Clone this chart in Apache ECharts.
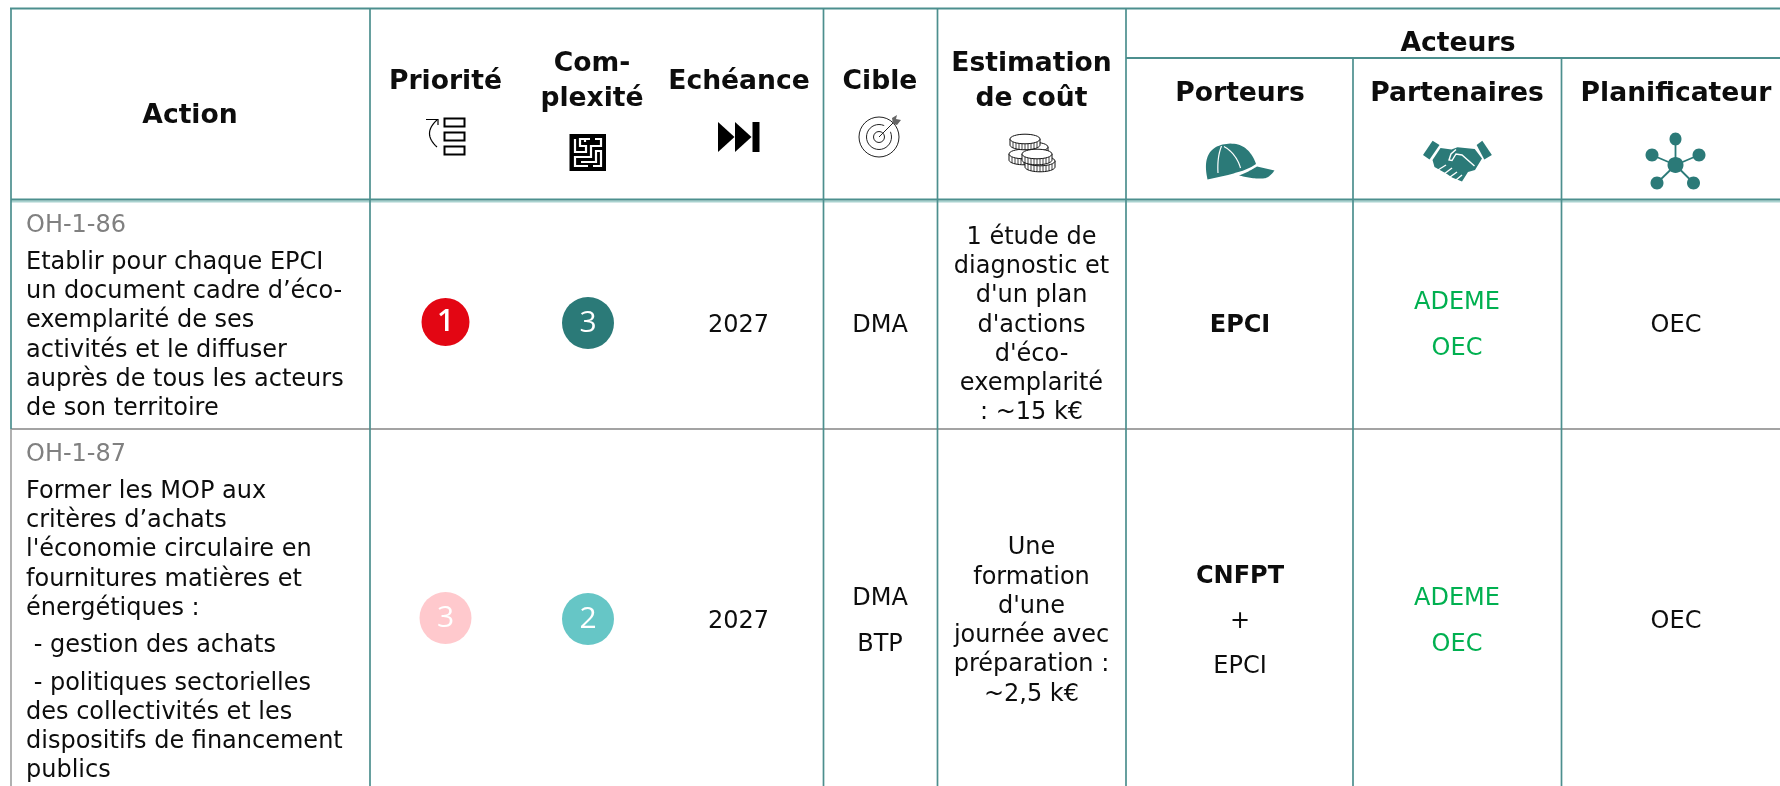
<!DOCTYPE html>
<html lang="fr">
<head>
<meta charset="utf-8">
<title>Actions</title>
<style>html,body{margin:0;padding:0;background:#fff}#c{width:1780px;height:786px}</style>
<script src="https://cdn.jsdelivr.net/npm/echarts@6/dist/echarts.min.js"></script>
</head>
<body>
<div id="c"></div>
<script>
// ---------- content ----------
const headerSingle = ['Action', 'Priorité', 'Com-\nplexité', 'Echéance', 'Cible', 'Estimation\nde coût'];
const headerGroup = 'Acteurs';
const headerActors = ['Porteurs', 'Partenaires', 'Planificateur'];
const actionCodes = ['OH-1-86', 'OH-1-87'];
const actionTexts = [
  [['Etablir pour chaque EPCI', 'un document cadre d’éco-', 'exemplarité de ses', 'activités et le diffuser', 'auprès de tous les acteurs', 'de son territoire']],
  [['Former les MOP aux', 'critères d’achats', "l'économie circulaire en", 'fournitures matières et', 'énergétiques :'],
   ['\u00a0- gestion des achats'],
   ['\u00a0- politiques sectorielles', 'des collectivités et les', 'dispositifs de financement', 'publics']]
];
const priorities = [1, 3];
const complexities = [3, 2];
const deadlines = ['2027', '2027'];
const targets = [['DMA'], ['DMA', 'BTP']];
const costs = [
  ['1 étude de', 'diagnostic et', "d'un plan", "d'actions", "d'éco-", 'exemplarité', ': ~15 k€'],
  ['Une', 'formation', "d'une", 'journée avec', 'préparation :', '~2,5 k€']
];
const carriers = [[['EPCI', true]], [['CNFPT', true], ['+', false], ['EPCI', false]]];
const partners = [['ADEME', 'OEC'], ['ADEME', 'OEC']];
const planners = [['OEC'], ['OEC']];

// ---------- layout (pixels of the canvas, mapped through the axes) ----------
const W = 1780, H = 786;
const COLX = [11, 370, 823.5, 937.5, 1126, 1353, 1561.5];
const ROWY = { top: 8.5, group: 58, head: 199.5, row1: 429 };
const CENTER = { action: 190, prio: 445.5, comp: 588, year: 738.5, target: 880, cost: 1031.5, carrier: 1240, partner: 1457, planner: 1676 };
const ROWC = [323, 619];
const BODY = 24, HEAD = 26.6, LH = 29.3, PARA = 46;
const TEAL = '#4c8f8e', HALO = '#a9d2cf', GREY = '#a3a3a3', INK = '#0d0d0d', ICON = '#2b7a78';
const FONT = '"DejaVu Sans", Verdana, sans-serif';
const TEXT_SHIFT = 4.3, HW = 2, VW = 1.7;

const rules = [
  [COLX[0] - 1, ROWY.top, W, ROWY.top, TEAL, HW],
  [COLX[4], ROWY.group, W, ROWY.group, TEAL, HW],
  [COLX[0], ROWY.head + 2, W, ROWY.head + 2, HALO, HW],
  [COLX[0], ROWY.head, W, ROWY.head, TEAL, HW],
  [COLX[0], ROWY.row1, W, ROWY.row1, GREY, HW],
  [COLX[0], ROWY.top, COLX[0], ROWY.row1, TEAL, VW],
  [COLX[0], ROWY.row1, COLX[0], H, GREY, VW],
  [COLX[1], ROWY.top, COLX[1], H, TEAL, VW],
  [COLX[2], ROWY.top, COLX[2], H, TEAL, VW],
  [COLX[3], ROWY.top, COLX[3], H, TEAL, VW],
  [COLX[4], ROWY.top, COLX[4], H, TEAL, VW],
  [COLX[5], ROWY.group, COLX[5], H, TEAL, VW],
  [COLX[6], ROWY.group, COLX[6], H, TEAL, VW]
];

const texts = []; // x, y, text, size, bold, color, align
function put(x, y, t, o) { o = o || {}; texts.push([x, y + TEXT_SHIFT, t, o.size || BODY, !!o.bold, o.color || INK, o.align || 'center']); }
function stack(x, cy, arr, pitch, o) { arr.forEach((t, i) => put(x, cy + (i - (arr.length - 1) / 2) * pitch, t, o)); }

// header
const H1 = { bold: true, size: HEAD };
put(CENTER.action, 112, headerSingle[0], H1);
put(CENTER.prio, 78, headerSingle[1], H1);
stack(592, 77.5, headerSingle[2].split('\n'), 35, H1);
put(739, 78, headerSingle[3], H1);
put(880, 78, headerSingle[4], H1);
stack(CENTER.cost, 77.5, headerSingle[5].split('\n'), 35, H1);
put(1458, 40, headerGroup, H1);
put(CENTER.carrier, 90, headerActors[0], H1);
put(CENTER.partner, 90, headerActors[1], H1);
put(CENTER.planner, 90, headerActors[2], H1);

// action column
const ACTION_TOP = [221.2, 450.2];
actionCodes.forEach((code, r) => {
  let y = ACTION_TOP[r];
  put(26, y, code, { color: '#808080', align: 'left' });
  y += 37;
  actionTexts[r].forEach(par => {
    par.forEach(line => { put(26, y, line, { align: 'left' }); y += LH; });
    y += 8;
  });
});

// body cells
ROWC.forEach((cy, r) => {
  const c0 = cy - 2;
  put(CENTER.year, c0, deadlines[r]);
  stack(CENTER.target, c0, targets[r], PARA);
  stack(CENTER.cost, c0, costs[r], LH);
  carriers[r].forEach((c, i) => put(CENTER.carrier, c0 + (i - (carriers[r].length - 1) / 2) * 45, c[0], { bold: c[1] }));
  stack(CENTER.partner, c0, partners[r], PARA, { color: '#00b050' });
  stack(CENTER.planner, c0, planners[r], PARA);
});

// badges
const PRIO_COLORS = { 1: '#e30613', 3: '#ffc9cd' };
const COMP_COLORS = { 3: '#2b7a78', 2: '#66c6c6' };
const badges = [
  [CENTER.prio, 322, priorities[0], PRIO_COLORS[priorities[0]], 48, 600],
  [CENTER.comp, 323, complexities[0], COMP_COLORS[complexities[0]], 52, 400],
  [CENTER.prio, 618, priorities[1], PRIO_COLORS[priorities[1]], 52, 400],
  [CENTER.comp, 619, complexities[1], COMP_COLORS[complexities[1]], 52, 400]
];

// ---------- pictograms, as vector primitives in canvas pixels ----------
function line(pts, w, c) { return { kind: 'poly', pts, w: w || 1, c: c || '#000' }; }
function fill(pts, c, s, w) { return { kind: 'fill', pts, c: c || ICON, s, w }; }
function ell(cx, cy, rx, ry, f, s, w) { return { kind: 'ell', cx, cy, rx, ry, f, s, w }; }
function box(x, y, w, h, s, lw) { return { kind: 'box', x, y, w, h, s, lw }; }
function bez(p0, p1, p2, p3) {
  const out = [];
  for (let i = 0; i <= 16; i++) {
    const t = i / 16, u = 1 - t;
    out.push([u*u*u*p0[0] + 3*u*u*t*p1[0] + 3*u*t*t*p2[0] + t*t*t*p3[0], u*u*u*p0[1] + 3*u*u*t*p1[1] + 3*u*t*t*p2[1] + t*t*t*p3[1]]);
  }
  return out;
}
function chain(start, segs) { let p = start, out = [start]; segs.forEach(s => { if (s.length === 1) { out.push(s[0]); p = s[0]; } else { out = out.concat(bez(p, s[0], s[1], s[2])); p = s[2]; } }); return out; }

const icons = [];
// priority list
icons.push(box(444.5, 118.5, 20, 8, '#000', 2), box(444.5, 132.5, 20, 8, '#000', 2), box(444.5, 146.5, 20, 8, '#000', 2));
icons.push(line([[426, 119.5], [438, 119.5], [438, 125]], 1.2));
icons.push(line(bez([437, 120], [427, 129], [427, 138], [437, 147]), 1.2));
// maze: black square with white channels
icons.push(fill([[569.5, 134], [606, 134], [606, 171], [569.5, 171]], '#000'));
[[[575, 139], [575, 152], [586, 152], [586, 146], [580, 146], [580, 139], [590, 139]],
 [[595, 139], [601, 139], [601, 146], [591, 146], [591, 157], [575, 157], [575, 166], [588, 166]],
 [[581, 162], [596, 162], [596, 151], [601, 151], [601, 166], [593, 166]],
 [[585, 139], [585, 142]]
].forEach(p => icons.push(line(p, 2.2, '#fff')));
// fast-forward
icons.push(fill([[718, 122], [734.5, 137], [718, 152]], '#000'), fill([[735, 122], [751.5, 137], [735, 152]], '#000'));
icons.push(fill([[752.5, 122], [759.5, 122], [759.5, 152], [752.5, 152]], '#000'));
// target
icons.push(ell(879, 137, 20, 20, 'none', '#222', 1), ell(879, 137, 12.5, 12.5, 'none', '#222', 1), ell(879, 137, 5.5, 5.5, 'none', '#222', 1));
icons.push(ell(889, 127, 5, 5, '#fff', 'none', 0));
icons.push(line([[879, 137], [895, 121]], 1, '#222'));
icons.push(fill([[892, 118], [897, 115], [896, 119], [901, 120], [897, 125], [893, 124]], '#666'));
// coins
function coin(cx, cy) {
  const rx = 15, ry = 4.8, h = 6, low = [];
  for (let i = 0; i <= 20; i++) { const a = Math.PI * i / 20; low.push([cx + rx * Math.cos(a), cy + h + ry * Math.sin(a)]); }
  icons.push(fill([[cx + rx, cy]].concat(low, [[cx - rx, cy]]), '#fff', '#111', 1));
  for (let i = -12; i <= 12; i += 3) {
    const d = ry * Math.sqrt(Math.max(0, 1 - (i * i) / (rx * rx)));
    icons.push(line([[cx + i, cy + d], [cx + i, cy + h + d]], 0.8, '#111'));
  }
  icons.push(ell(cx, cy, rx, ry, '#fff', '#111', 1));
}
coin(1033, 147); coin(1024, 154); coin(1025, 139); coin(1040, 161); coin(1037, 154);
// cap
icons.push(fill(chain([1207.5, 179.5], [[[1205, 168], [1205, 158], [1211, 151]], [[1216, 145], [1228, 142], [1238, 144.5]], [[1247, 147], [1253, 155], [1256, 164]], [[1248, 170], [1238, 172], [1228, 175]]])));
icons.push(fill(chain([1239, 175.5], [[[1246, 173], [1251, 170], [1257, 166.5]], [[1274.5, 170.5]], [[1271, 175], [1268, 178.5], [1262, 178.5]], [[1254, 179], [1246, 177], [1239, 175.5]]])));
icons.push(line(bez([1221.5, 146], [1218, 155], [1217.5, 164], [1218, 173]), 1.2, '#fff'));
icons.push(line(bez([1224, 146.5], [1232, 151], [1238, 159], [1240.5, 168]), 1.2, '#fff'));
// handshake
icons.push(fill([[1432.6, 140.7], [1439.5, 145], [1429.5, 159.5], [1423, 155]]));
icons.push(fill([[1482.3, 140.7], [1491.9, 155], [1484.3, 159.5], [1476.6, 145]]));
icons.push(fill([[1440.5, 148], [1451.5, 149.5], [1457.5, 147.3], [1474.7, 149], [1482, 158.5], [1475, 170], [1468, 172], [1462, 181.5], [1457, 179.5], [1452, 177.5], [1447, 174], [1434.5, 167], [1432.5, 160]]));
icons.push(line([[1474.5, 166], [1462, 155], [1456, 154], [1452, 160.5], [1449, 160], [1451, 154], [1456, 149.5]], 1.4, '#fff'));
[[[1438, 170], [1446, 165]], [[1444, 174], [1452, 168]], [[1450, 177], [1457, 172]], [[1456, 180], [1462, 175]]].forEach(p => icons.push(line(p, 1.4, '#fff')));
// network
const NET = [[1675.5, 139, 6, 6.5], [1652, 155, 6.5, 6.5], [1699, 155, 6.5, 6.5], [1657, 183, 6.5, 6.5], [1693.5, 183, 6.5, 6.5]];
NET.forEach(n => { icons.push(line([[1675.5, 165], [n[0], n[1]]], 1.8, ICON)); icons.push(ell(n[0], n[1], n[2], n[3], ICON, 'none', 0)); });
icons.push(ell(1675.5, 165, 8, 8, ICON, 'none', 0));

// ---------- chart ----------
const chart = echarts.init(document.getElementById('c'), null, { renderer: 'canvas' });
function renderIcon(p, api) {
  const o = icons[p.dataIndex];
  const c = pt => api.coord(pt);
  if (o.kind === 'poly') return { type: 'polyline', shape: { points: o.pts.map(c) }, style: { stroke: o.c, lineWidth: o.w, fill: 'none' } };
  if (o.kind === 'fill') return { type: 'polygon', shape: { points: o.pts.map(c) }, style: { fill: o.c, stroke: o.s || null, lineWidth: o.w || 0 } };
  if (o.kind === 'ell') { const q = c([o.cx, o.cy]); return { type: 'ellipse', shape: { cx: q[0], cy: q[1], rx: o.rx, ry: o.ry }, style: { fill: o.f, stroke: o.s === 'none' ? null : o.s, lineWidth: o.w } }; }
  const q = c([o.x, o.y]);
  return { type: 'rect', shape: { x: q[0], y: q[1], width: o.w, height: o.h }, style: { fill: 'none', stroke: o.s, lineWidth: o.lw } };
}
chart.setOption({
  animation: false,
  backgroundColor: '#fff',
  grid: { left: 0, right: 0, top: 0, bottom: 0 },
  xAxis: { type: 'value', min: 0, max: W, show: false },
  yAxis: { type: 'value', min: 0, max: H, inverse: true, show: false },
  tooltip: { show: false },
  series: [
    { type: 'custom', silent: true, clip: false, z: 1, data: rules.map((r, i) => [r[0], r[1], i]),
      encode: { x: 0, y: 1 },
      renderItem: (p, api) => {
        const r = rules[p.dataIndex], a = api.coord([r[0], r[1]]), b = api.coord([r[2], r[3]]);
        return { type: 'line', shape: { x1: a[0], y1: a[1], x2: b[0], y2: b[1] }, style: { stroke: r[4], lineWidth: r[5] } };
      } },
    { type: 'custom', silent: true, clip: false, z: 2, data: icons.map((o, i) => [0, 0, i]),
      encode: { x: 0, y: 1 }, renderItem: renderIcon },
    { type: 'custom', silent: true, clip: false, z: 3, data: texts.map(t => [t[0], t[1]]),
      encode: { x: 0, y: 1 },
      renderItem: (p, api) => {
        const t = texts[p.dataIndex], q = api.coord([t[0], t[1]]);
        return { type: 'text', style: { text: t[2], x: q[0], y: q[1], fill: t[5], align: t[6], verticalAlign: 'middle',
          font: `${t[4] ? 'bold ' : ''}${t[3]}px ${FONT}` } };
      } },
    { type: 'scatter', silent: true, z: 4, symbol: 'circle', data: badges.map(b => ({
        value: [b[0], b[1]], symbolSize: b[4], itemStyle: { color: b[3], opacity: 1 },
        label: { show: true, position: 'inside', formatter: String(b[2]), color: '#fff', fontSize: 30, fontWeight: b[5], fontFamily: '"Open Sans", sans-serif' } })) }
  ]
});
</script>
</body>
</html>
